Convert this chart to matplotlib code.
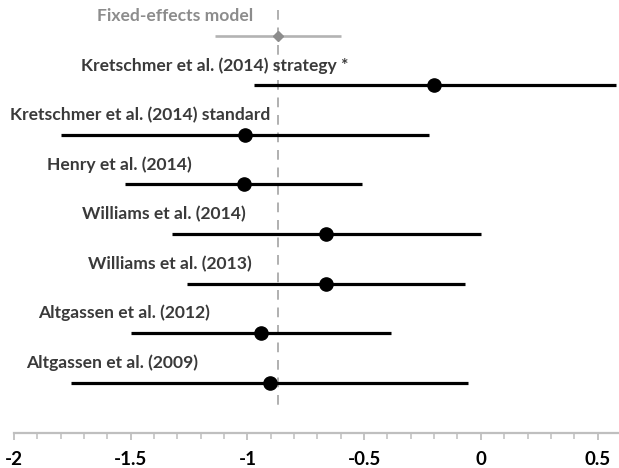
import matplotlib.pyplot as plt
import numpy as np

studies = ['Fixed-effects model',
           'Kretschmer et al. (2014) strategy *',
           'Kretschmer et al. (2014) standard',
           'Henry et al. (2014)',
           'Williams et al. (2014)',
           'Williams et al. (2013)',
           'Altgassen et al. (2012)',
           'Altgassen et al. (2009)']
effect = [-0.87, -0.20, -1.01, -1.015, -0.665, -0.665, -0.94, -0.905]
ci_low = [-1.14, -0.97, -1.80, -1.525, -1.325, -1.257, -1.497, -1.755]
ci_high = [-0.60, 0.58, -0.22, -0.51, 0.0, -0.069, -0.384, -0.057]
pooled = -0.87

# left edge of each label, in x data units
label_x = [-1.645, -1.714, -2.018, -1.86, -1.71, -1.684, -1.898, -1.95]

plt.rcParams['font.family'] = ['Lato', 'DejaVu Sans']

fig = plt.figure(figsize=(6.19, 4.68), dpi=100)
ax = fig.add_axes([14 / 619, 35 / 468, 605 / 619, 433 / 468])

rows = np.arange(len(studies))
for i in rows:
    if i == 0:
        ax.plot([ci_low[i], ci_high[i]], [i, i], color='#b3b3b3', lw=1.9, solid_capstyle='butt')
        ax.plot(effect[i], i, marker='D', color='#8c8c8c', ms=5.5)
        tc = '#8c8c8c'
    else:
        ax.plot([ci_low[i], ci_high[i]], [i, i], color='black', lw=2.3, solid_capstyle='butt')
        ax.plot(effect[i], i, marker='o', color='black', ms=9.5)
        tc = '#3a3a3a'
    ax.text(label_x[i], i - 0.4, studies[i], ha='left', va='center',
            fontsize=12.6, fontweight='bold', color=tc)

ax.plot([pooled, pooled], [-0.525, 7.6], color='#b0b0b0', lw=1.4, ls=(0, (5, 4)), zorder=0)

ax.set_xlim(-2, 0.592)
ax.set_ylim(8.02, -0.727)
for s in ['left', 'top', 'right']:
    ax.spines[s].set_visible(False)
ax.spines['bottom'].set_color('#bfbfbf')
ax.spines['bottom'].set_linewidth(1.6)
ax.set_yticks([])
ax.set_xticks([-2, -1.5, -1, -0.5, 0, 0.5])
ax.set_xticklabels(['-2', '-1.5', '-1', '-0.5', '0', '0.5'])
ax.set_xticks(np.arange(-2, 0.55, 0.1), minor=True)
ax.tick_params(axis='x', which='major', length=5, width=1.3, color='#bfbfbf', pad=8,
               labelsize=13.5)
ax.tick_params(axis='x', which='minor', length=4, width=1.1, color='#bfbfbf')
for lab in ax.get_xticklabels():
    lab.set_fontweight('bold')
    lab.set_color('black')

fig.savefig('out.png', dpi=100)
